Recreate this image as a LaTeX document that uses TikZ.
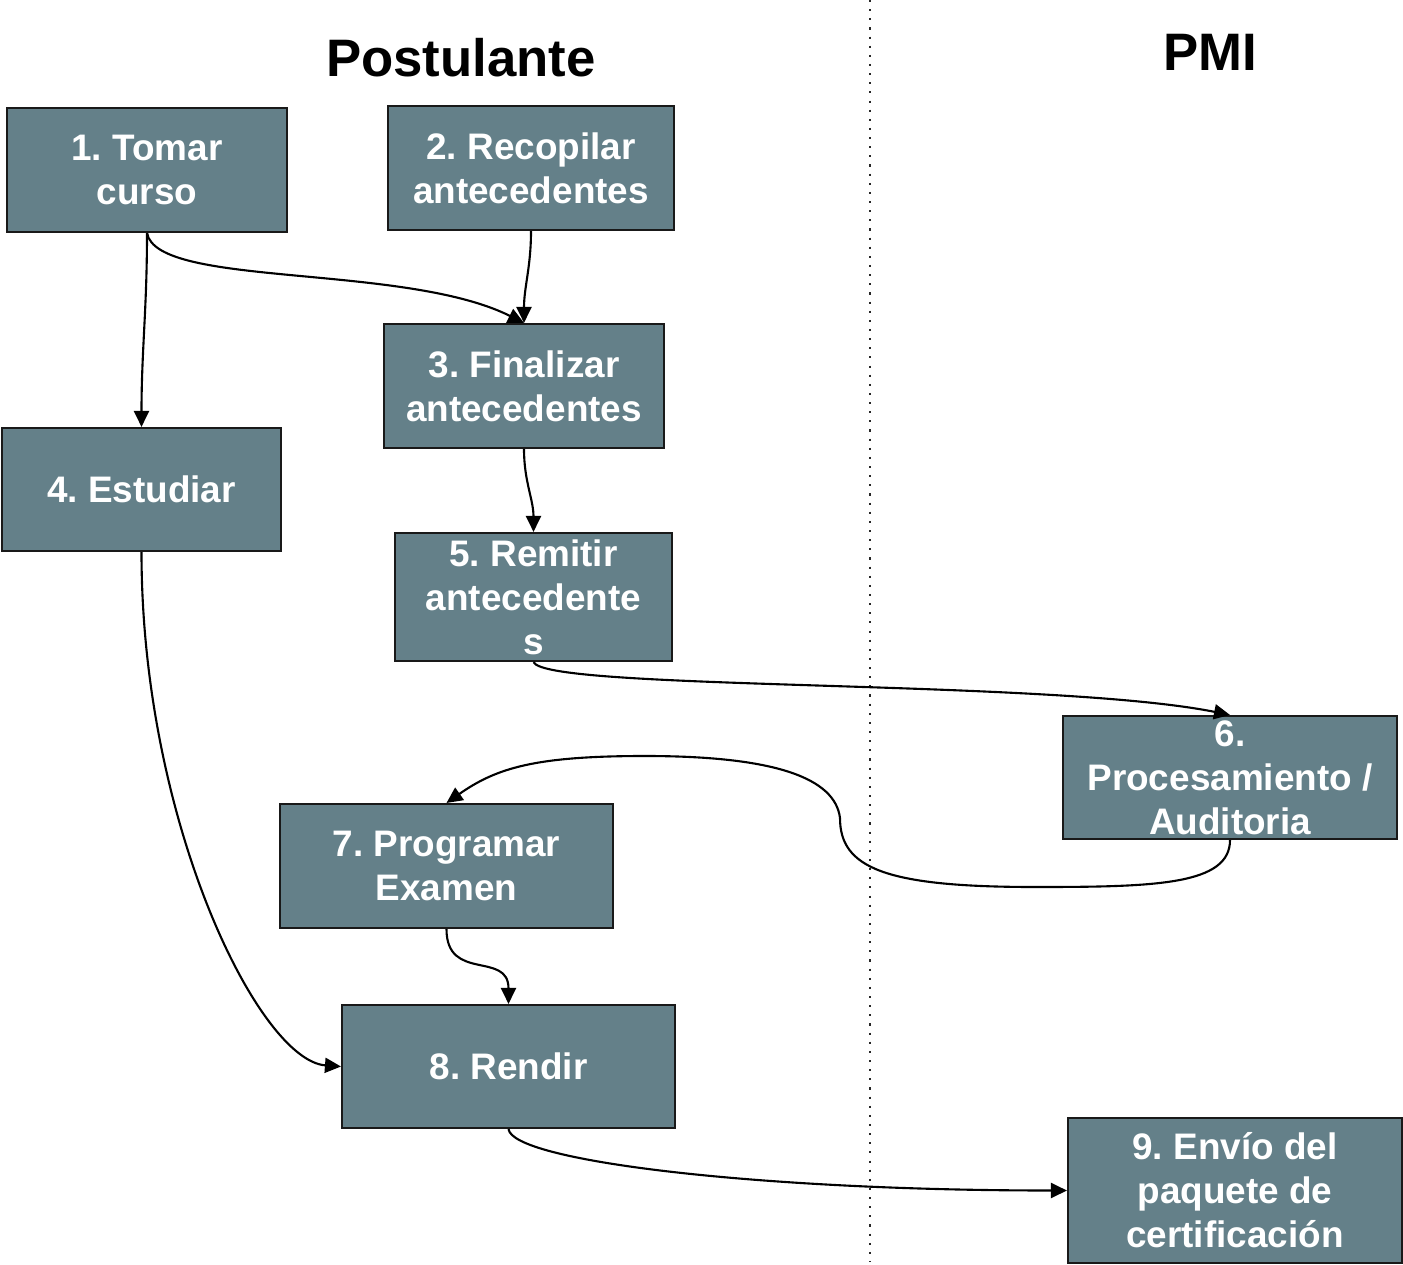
\documentclass[tikz,border=0pt]{standalone}
\usepackage{fontspec}
\setmainfont{Liberation Sans}
\usetikzlibrary{arrows.meta,positioning}
\definecolor{cajagris}{RGB}{100,128,137}
\frenchspacing

\begin{document}
\begin{tikzpicture}[
    paso/.style={draw=black!90,line width=0.6pt,fill=cajagris,text=white,inner sep=0pt,align=center,
        font=\fontsize{10.5}{12.5}\selectfont\bfseries},
    titulo/.style={anchor=base,font=\fontsize{15}{18}\selectfont\bfseries},
    flecha/.style={-{Triangle[length=1.6mm,width=1.5mm]},line width=0.6pt}]
    \useasboundingbox (0,0) rectangle (14.03,-12.65);
    % separador entre los dos carriles
    \draw[dotted,line width=0.6pt,black!85] (8.70,0) -- (8.70,-12.62);
    \node[titulo] (post) at (4.61,-0.77) {Postulante};
    \node[titulo] (pmi) at (12.10,-0.71) {PMI};

    \node[paso,minimum width=2.80cm,minimum height=1.24cm] (tomar) at (1.47,-1.70) {1. Tomar\\curso};
    \node[paso,minimum width=2.86cm,minimum height=1.24cm] (recop) at (5.31,-1.68) {2. Recopilar\\antecedentes};
    \node[paso,minimum width=2.80cm,minimum height=1.24cm] (final) at (5.24,-3.86) {3. Finalizar\\antecedentes};
    \node[paso,minimum width=2.79cm,minimum height=1.23cm] (estud) at (1.415,-4.895) {4. Estudiar};
    \node[paso,minimum width=2.77cm,minimum height=1.28cm] (remit) at (5.335,-5.97) {5. Remitir\\antecedente\\s};
    \node[paso,minimum width=3.34cm,minimum height=1.23cm] (proces) at (12.30,-7.775) {6.\\Procesamiento /\\Auditoria};
    \node[paso,minimum width=3.33cm,minimum height=1.24cm] (progr) at (4.465,-8.66) {7. Programar\\Examen};
    \node[paso,minimum width=3.33cm,minimum height=1.23cm] (rendir) at (5.085,-10.665) {8. Rendir};
    \node[paso,minimum width=3.34cm,minimum height=1.45cm] (envio) at (12.35,-11.905) {9. Envío del\\paquete de\\certificación};

    \draw[flecha] (tomar.south) to[out=-90,in=90] (estud.north);
    \draw[flecha] (tomar.south) .. controls +(0.1,-0.55) and +(-1.2,0.6) .. (final.north);
    \draw[flecha] (recop.south) to[out=-90,in=90] (final.north);
    \draw[flecha] (final.south) to[out=-90,in=90] (remit.north);
    \draw[flecha] (remit.south) .. controls +(0.12,-0.29) and +(-1.8,0.36) .. (proces.north);
    \draw[flecha] (proces.south) .. controls +(0,-0.45) and +(1.2,0) .. (10.35,-8.87)
        .. controls +(-1.5,0) and +(0,-0.5) .. (8.40,-8.18)
        .. controls +(-0.05,0.4) and +(1.3,0) .. (6.45,-7.56)
        .. controls +(-1.1,0) and +(0.5,0.35) .. (progr.north);
    \draw[flecha] (progr.south) to[out=-90,in=90,looseness=1.4] (rendir.north);
    \draw[flecha] (estud.south) .. controls +(0,-2.7) and +(-0.82,0.06) .. (rendir.west);
    \draw[flecha] (rendir.south) .. controls +(0.04,-0.32) and +(-3.1,0) .. (envio.west);
\end{tikzpicture}
\end{document}
